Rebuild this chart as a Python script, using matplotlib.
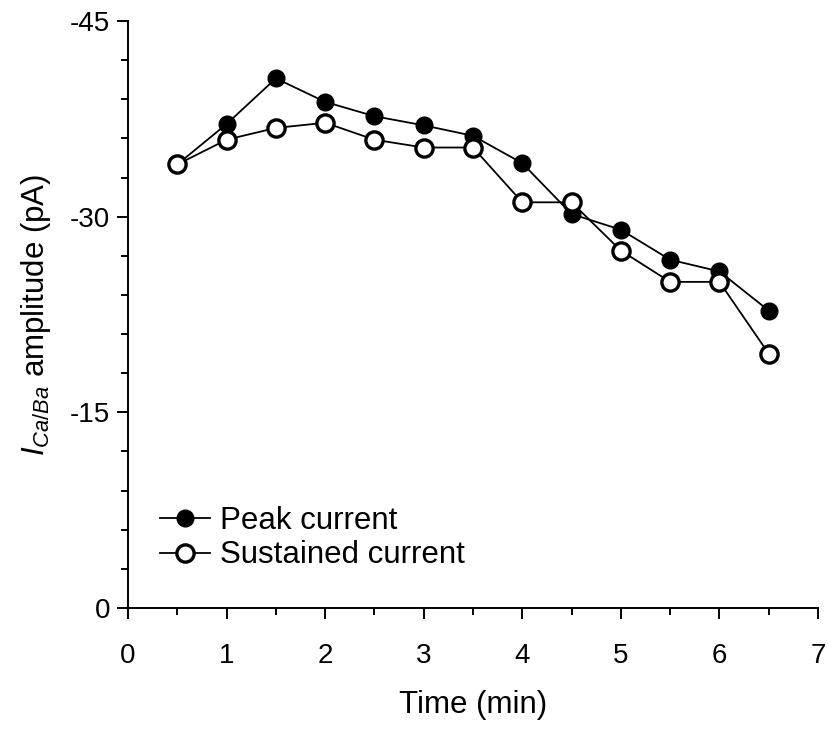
import matplotlib
matplotlib.use("Agg")
import matplotlib.pyplot as plt
from matplotlib.ticker import MultipleLocator

plt.rcParams.update({
    "font.family": ["Liberation Sans", "DejaVu Sans"],
    "font.size": 20,
    "axes.labelsize": 22.5,
    "legend.fontsize": 22.5,
    "mathtext.fontset": "custom",
    "mathtext.rm": "Liberation Sans",
    "mathtext.it": "Liberation Sans:italic",
    "axes.unicode_minus": False,
    "axes.linewidth": 1.4,
})

# --- Data ---
time_min = [0.5, 1.0, 1.5, 2.0, 2.5, 3.0, 3.5, 4.0, 4.5, 5.0, 5.5, 6.0, 6.5]
peak_current = [-34.0, -37.1, -40.6, -38.8, -37.7, -37.0, -36.2,
                -34.1, -30.2, -29.0, -26.7, -25.8, -22.8]
sustained_current = [-34.0, -35.9, -36.8, -37.2, -35.9, -35.3, -35.3,
                     -31.1, -31.1, -27.4, -25.0, -25.0, -19.5]
y_ticks = [0, -15, -30, -45]
x_ticks = [0, 1, 2, 3, 4, 5, 6, 7]

fig = plt.figure(figsize=(8.29, 7.29), dpi=100)
ax = fig.add_axes([0.1544, 0.166, 0.8323, 0.8052])

ax.plot(time_min, peak_current, color="black", linewidth=1.3,
        marker="o", markersize=12, markerfacecolor="black",
        markeredgecolor="black", markeredgewidth=1.0,
        label="Peak current", clip_on=False, zorder=3)
ax.plot(time_min, sustained_current, color="black", linewidth=1.3,
        marker="o", markersize=12.4, markerfacecolor="white",
        markeredgecolor="black", markeredgewidth=2.4,
        label="Sustained current", clip_on=False, zorder=4)

ax.set_xlim(0, 7)
ax.set_ylim(0, -45)
ax.set_xticks(x_ticks)
ax.set_yticks(y_ticks)
ax.xaxis.set_minor_locator(MultipleLocator(0.5))
ax.yaxis.set_minor_locator(MultipleLocator(3))

ax.spines["top"].set_visible(False)
ax.spines["right"].set_visible(False)
ax.tick_params(which="major", direction="out", length=8, width=1.4)
ax.tick_params(which="minor", direction="out", length=5, width=1.4)
ax.tick_params(axis="x", which="major", pad=17)
ax.tick_params(axis="y", which="major", pad=5)

ax.set_xlabel("Time (min)", labelpad=15)
ax.set_ylabel(r"$I_{Ca/Ba}$ amplitude (pA)", labelpad=12)

ax.legend(loc="center left", bbox_to_anchor=(0.046, 0.119),
          frameon=False, handlelength=1.6, handletextpad=0.32,
          labelspacing=0.15, borderpad=0, borderaxespad=0,
          numpoints=1)

fig.savefig("out.png", dpi=100)
